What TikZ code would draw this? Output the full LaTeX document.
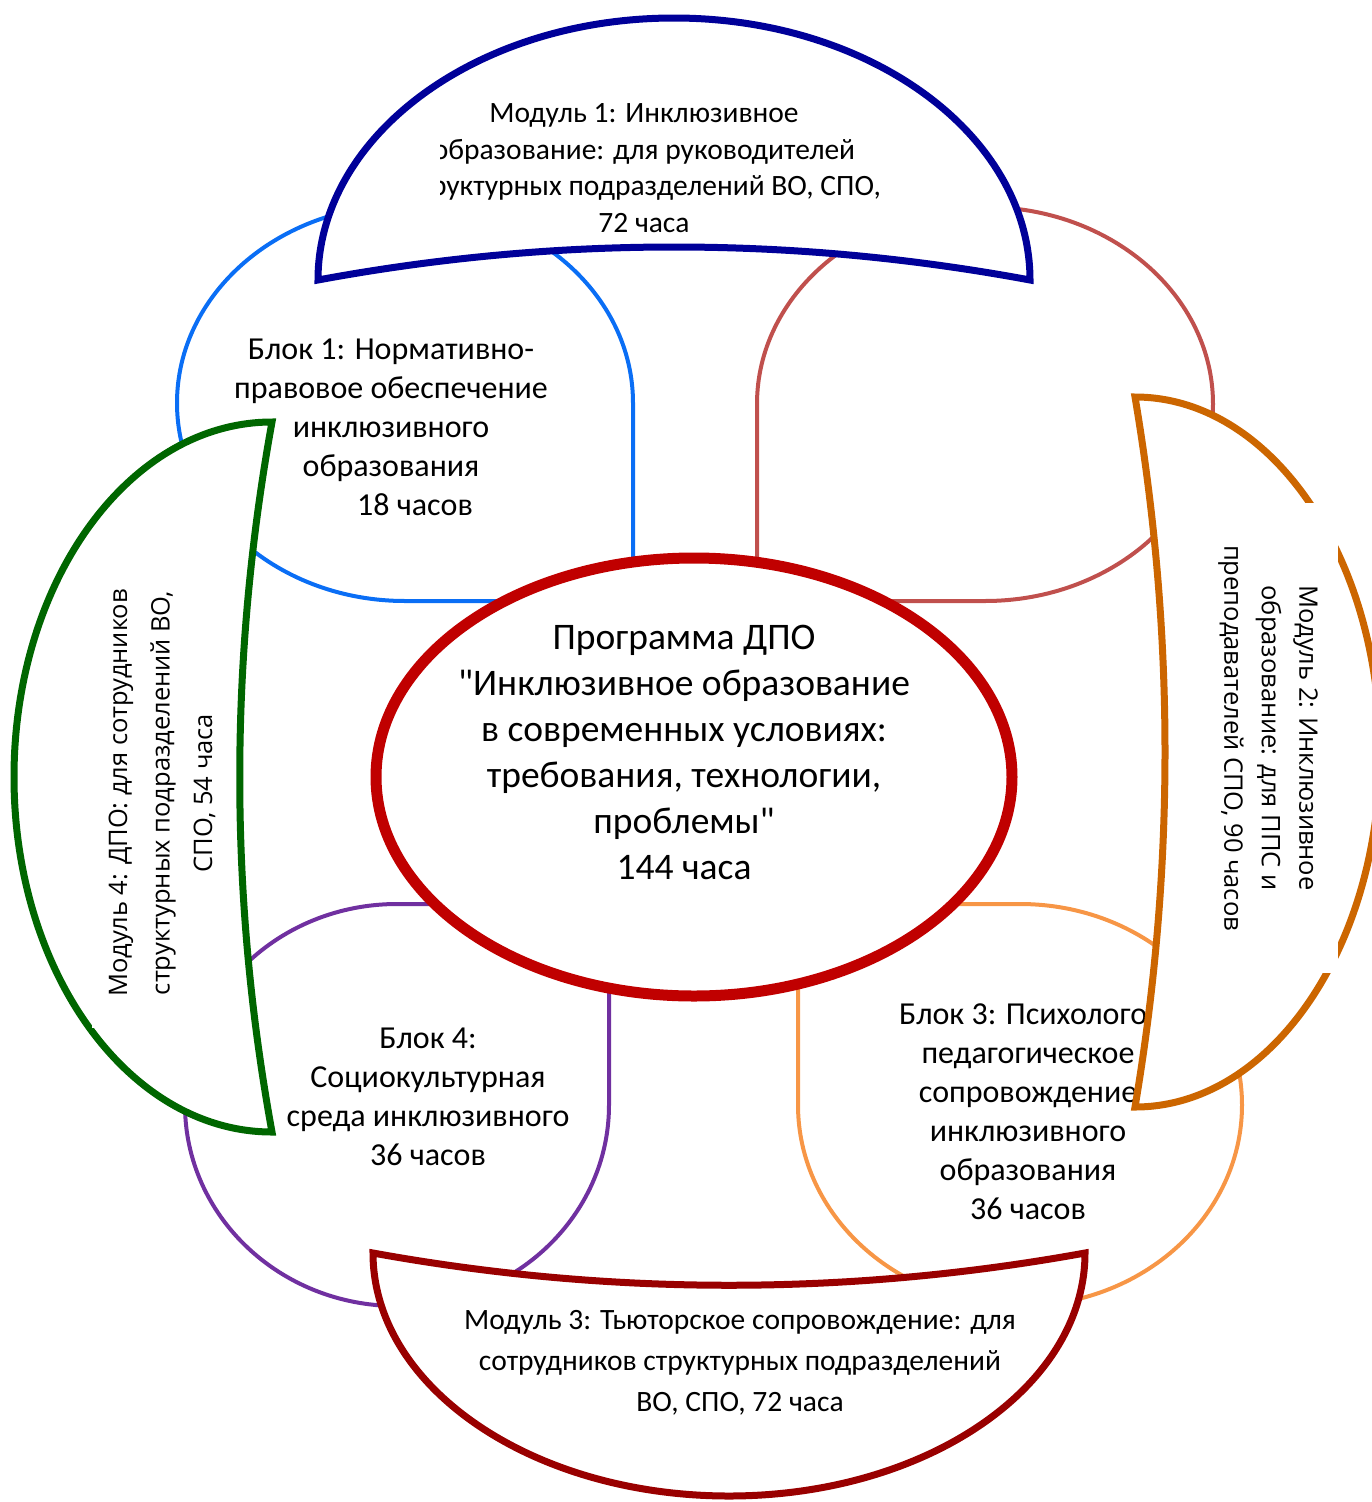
\documentclass[tikz,border=0pt]{standalone}
\usepackage{fontspec}
\setmainfont{Carlito}[Ligatures=TeXOff]
\newfontfamily\sidefont{Open Sans}
\usetikzlibrary{shapes.geometric}

\definecolor{blockone}{HTML}{0A6EF5}
\definecolor{blocktwo}{HTML}{C0504D}
\definecolor{blockthree}{HTML}{F79646}
\definecolor{blockfour}{HTML}{7030A0}
\definecolor{modone}{HTML}{000099}
\definecolor{modtwo}{HTML}{CC6600}
\definecolor{modthree}{HTML}{990000}
\definecolor{modfour}{HTML}{006600}
\definecolor{progred}{HTML}{C00000}

\begin{document}
\begin{tikzpicture}[
  x=1pt, y=-1pt,
  blockline/.style={draw=#1, line width=4pt},
  modline/.style={draw=#1, line width=7pt, fill=white, line join=miter},
  blocktext/.style={align=center, inner sep=0pt, font=\fontsize{32}{39}\selectfont},
  modtext/.style={align=center, inner sep=0pt, font=\fontsize{29.5}{36.5}\selectfont},
  sidetext/.style={align=center, inner sep=0pt, fill=white, minimum width=470pt, minimum height=140pt, font=\sidefont\fontsize{25.5}{37.5}\selectfont},
]

\useasboundingbox (0,0) rectangle (1371,1502);

% Blocks
\draw[blockline=blockone] (633,403) -- (633,601) -- (405,601)
  arc[start angle=90, end angle=360, x radius=228, y radius=198] -- cycle;
\draw[blockline=blocktwo] (757,403) -- (757,601) -- (985,601)
  arc[start angle=90, end angle=-180, x radius=228, y radius=197] -- cycle;
\draw[blockline=blockthree] (798,1105) -- (798,904) -- (1020,904)
  arc[start angle=-90, end angle=180, x radius=222, y radius=201] -- cycle;
\draw[blockline=blockfour] (609,1105) -- (609,904) -- (397,904)
  arc[start angle=-90, end angle=-360, x radius=212, y radius=201] -- cycle;

\node[blocktext] (b1) at (391,427) {Блок 1: Нормативно-\\правовое обеспечение\\инклюзивного\\образования\\\hspace*{48pt}18 часов};
\node[blocktext] (b3) at (1028,1112) {Блок 3: Психолого-\\педагогическое\\сопровождение\\инклюзивного\\образования\\36 часов};
\node[blocktext] (b4) at (428,1097) {Блок 4:\\Социокультурная\\среда инклюзивного\\36 часов};

% Programme
\draw[draw=progred, line width=11pt, fill=white] (694,777) ellipse[x radius=318, y radius=219];
\node[align=center, inner sep=0pt, font=\fontsize{37.5}{46}\selectfont] (prog) at (684,752)
  {Программа ДПО\\"Инклюзивное образование\\в современных условиях:\\требования, технологии,\\проблемы"\\144 часа};

% Modules
\draw[modline=modone] (318,280) arc[start angle=180, end angle=360, x radius=356, y radius=262]
  .. controls (793,236) and (555,236) .. (318,280) -- cycle;
\draw[modline=modtwo] (1135,1107) arc[start angle=90, end angle=-90, x radius=245, y radius=355]
  .. controls (1175,634) and (1175,870) .. (1135,1107) -- cycle;
\draw[modline=modthree] (1085,1253) arc[start angle=0, end angle=180, x radius=356, y radius=243]
  .. controls (610,1296) and (848,1296) .. (1085,1253) -- cycle;
\draw[modline=modfour] (272,422) arc[start angle=-90, end angle=-270, x radius=258, y radius=355]
  .. controls (229,896) and (229,659) .. (272,422) -- cycle;

\begin{scope}
  \clip (440,60) rectangle (1000,250);
  \node[modtext] (m1) at (644,168) {Модуль 1: Инклюзивное\\образование: для руководителей\\структурных подразделений ВО, СПО,\\72 часа};
\end{scope}
\node[sidetext, rotate=-90] (m2) at (1268,738) {Модуль 2: Инклюзивное\\образование: для ППС и\\преподавателей СПО, 90 часов};
\node[modtext, font=\fontsize{29.5}{41}\selectfont] (m3) at (740,1363) {Модуль 3: Тьюторское сопровождение: для\\сотрудников структурных подразделений\\ВО, СПО, 72 часа};
\node[sidetext, rotate=90, font=\sidefont\fontsize{25.5}{42.5}\selectfont] (m4) at (162,793) {Модуль 4: ДПО: для сотрудников\\структурных подразделений ВО,\\СПО, 54 часа};

\end{tikzpicture}
\end{document}
